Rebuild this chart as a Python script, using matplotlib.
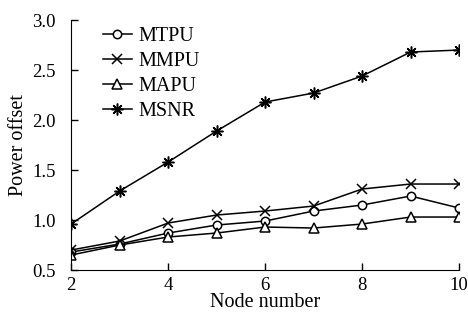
import matplotlib
matplotlib.use("Agg")
import matplotlib.pyplot as plt

nodes = [2, 3, 4, 5, 6, 7, 8, 9, 10]
mtpu = [0.68, 0.76, 0.87, 0.95, 0.99, 1.09, 1.15, 1.24, 1.12]
mmpu = [0.70, 0.79, 0.97, 1.05, 1.09, 1.14, 1.31, 1.36, 1.36]
mapu = [0.65, 0.75, 0.83, 0.87, 0.93, 0.92, 0.96, 1.03, 1.03]
msnr = [0.96, 1.29, 1.58, 1.89, 2.18, 2.27, 2.44, 2.68, 2.70]

plt.rcParams['font.family'] = ['Liberation Serif', 'DejaVu Serif']

fig = plt.figure(figsize=(4.68, 3.23), dpi=100)
ax = fig.add_axes([0.152, 0.164, 0.829, 0.774])

ax.plot(nodes, mtpu, 'k-', marker='o', mfc='white', mec='k', ms=6, mew=1.1, lw=1.1, label="MTPU")
ax.plot(nodes, mmpu, 'k-', marker='x', ms=6.5, mew=1.1, lw=1.1, label="MMPU")
ax.plot(nodes, mapu, 'k-', marker='^', mfc='white', mec='k', ms=6.5, mew=1.1, lw=1.1, label="MAPU")
ax.plot(nodes, msnr, 'k-', marker=(8, 2, 0), ms=8.5, mew=1.1, lw=1.1, label="MSNR")

ax.set_xlim(2, 10)
ax.set_ylim(0.5, 3.0)
ax.set_xticks([2, 4, 6, 8, 10])
ax.set_yticks([0.5, 1.0, 1.5, 2.0, 2.5, 3.0])
ax.set_yticklabels(["0.5", "1.0", "1.5", "2.0", "2.5", "3.0"])
ax.tick_params(direction='in', length=5, labelsize=13.5, width=1)
ax.tick_params(axis='y', pad=11)
ax.tick_params(axis='x', pad=5)
ax.spines['top'].set_visible(False)
ax.spines['right'].set_visible(False)
ax.set_xlabel("Node number", fontsize=14.5, labelpad=-1)
ax.set_ylabel("Power offset", fontsize=14.5, labelpad=3)
for s in ax.spines.values():
    s.set_clip_on(False)

leg = ax.legend(loc='upper left', frameon=False, fontsize=14.5, handlelength=1.45,
                handletextpad=0.3, labelspacing=0.3, bbox_to_anchor=(0.035, 1.045))

fig.savefig("out.png", dpi=100)
